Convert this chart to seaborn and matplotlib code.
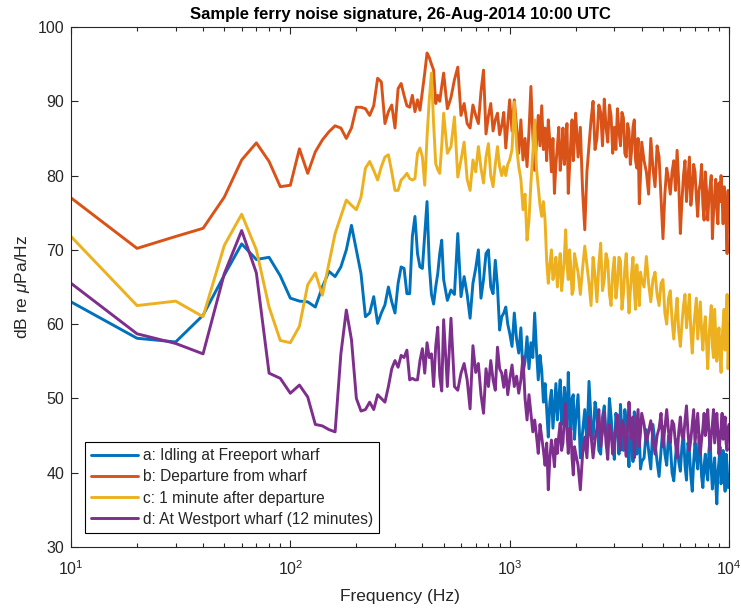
import numpy as np
import pandas as pd
import matplotlib
matplotlib.use("Agg")
import matplotlib.pyplot as plt
from matplotlib.lines import Line2D
import seaborn as sns

# Frequency bins (Hz): fine steps at low frequency, coarser steps higher up
freq_hz = np.concatenate([
    np.arange(10, 501, 10),
    np.arange(520, 1001, 20),
    np.arange(1025, 2001, 25),
    np.arange(2050, 4001, 50),
    np.arange(4100, 10001, 100),
])

# Spectral levels (dB re uPa/Hz) for each recording
idling_db = [
    63.0, 58.1, 57.6, 61.2, 66.6, 70.8, 68.7, 69.0, 66.5, 63.5,
    63.1, 63.0, 62.3, 65.0, 67.1, 66.4, 67.7, 70.0, 73.3, 70.0,
    66.8, 61.0, 61.5, 63.7, 60.1, 61.5, 62.6, 65.0, 63.0, 61.5,
    65.5, 67.7, 67.5, 64.1, 64.1, 71.8, 74.5, 69.5, 67.7, 67.5,
    72.0, 76.5, 68.0, 64.0, 62.7, 65.0, 66.8, 69.5, 71.3, 66.0,
    63.2, 64.6, 64.0, 72.2, 63.7, 66.4, 64.0, 60.8, 65.5, 67.5,
    70.0, 63.5, 66.0, 69.5, 70.0, 65.0, 64.1, 68.6, 65.0, 59.2,
    61.0, 61.5, 62.3, 60.0, 58.8,
    57.0, 61.5, 58.0, 56.1, 59.5, 53.4, 55.0, 58.3, 54.0, 57.5,
    55.5, 61.5, 56.5, 52.5, 55.8, 53.8, 49.5, 52.0, 48.5, 44.8,
    49.5, 51.1, 46.0, 49.0, 52.0, 47.1, 50.0, 52.5, 46.5, 48.0,
    51.5, 49.3, 46.2, 53.5, 48.5, 45.7, 50.0, 50.5, 44.5, 47.1,
    50.5, 42.0, 45.5, 48.5, 44.0, 52.3, 47.0, 44.5, 49.5, 47.8,
    43.0, 42.5, 47.5, 49.0, 45.0, 44.0, 50.0, 47.5, 44.5, 41.8,
    48.0, 46.5, 42.5, 49.2, 45.5, 43.0, 48.5, 46.8, 43.5, 40.8,
    46.0, 45.5, 41.5, 48.2, 44.0, 42.5, 47.0, 45.0, 40.5, 41.5,
    42.0, 45.8, 43.0, 40.5, 46.5, 44.0, 41.5, 39.5, 43.0, 46.2,
    42.5, 41.0, 45.0, 43.8, 40.0, 38.9, 42.0, 44.5, 41.5, 40.2,
    43.5, 45.5, 41.0, 39.0, 44.0, 42.8, 39.5, 37.5, 41.5, 44.0,
    42.0, 40.5, 45.0, 43.2, 39.5, 38.0, 41.0, 42.5, 40.0, 39.0,
    43.0, 44.5, 40.5, 37.8, 40.5, 42.0, 38.5, 35.8, 40.0, 41.5,
    43.5, 38.5, 40.0, 43.0, 39.5, 37.5, 42.5, 41.0, 38.0, 39.5,
]
departure_db = [
    77.0, 70.2, 71.8, 72.9, 77.1, 82.1, 84.4, 81.9, 78.5, 78.7,
    83.6, 80.3, 83.2, 84.8, 85.9, 86.7, 86.4, 85.0, 86.4, 89.2,
    89.2, 89.0, 88.1, 89.4, 93.1, 92.6, 87.0, 88.6, 89.5, 86.4,
    91.7, 92.4, 90.8, 89.4, 89.2, 90.8, 88.6, 90.2, 88.8, 91.3,
    93.8, 96.5, 95.9, 95.0, 94.2, 89.7, 90.8, 90.0, 92.0, 93.8,
    89.0, 90.5, 92.9, 94.6, 88.1, 89.7, 87.0, 86.4, 89.5, 88.1,
    87.0, 91.3, 94.2, 85.6, 88.0, 89.7, 86.0, 87.5, 88.4, 85.5,
    86.7, 88.5, 83.7, 87.0, 90.2,
    86.0, 90.2, 86.5, 83.0, 87.5, 82.1, 85.0, 81.2, 86.0, 92.0,
    85.5, 80.7, 84.5, 88.1, 84.0, 89.4, 83.5, 86.4, 82.0, 87.5,
    84.5, 80.5, 85.0, 77.6, 81.5, 83.9, 86.5, 80.7, 83.0, 86.4,
    81.5, 84.0, 87.0, 77.6, 81.0, 84.7, 87.5, 82.0, 85.0, 88.4,
    82.5, 86.5, 78.0, 72.7, 80.5, 84.0, 87.5, 90.0, 83.5, 85.0,
    89.5, 88.5, 84.0, 90.3, 86.5, 84.5, 89.5, 88.0, 83.0, 86.5,
    83.5, 89.0, 86.0, 84.0, 88.5, 87.8, 83.0, 82.5, 87.0, 86.0,
    81.5, 83.5, 86.5, 87.5, 82.0, 81.0, 85.0, 76.2, 80.0, 84.5,
    82.0, 80.5, 77.5, 85.0, 81.0, 78.5, 84.0, 82.5, 77.0, 71.5,
    77.5, 81.0, 79.5, 77.5, 80.5, 82.0, 78.0, 83.4, 79.0, 72.2,
    76.5, 80.0, 82.0, 76.5, 79.5, 82.5, 76.0, 78.0, 81.5, 80.5,
    77.0, 74.5, 78.0, 79.0, 81.5, 76.0, 74.0, 80.5, 78.0, 74.0,
    77.0, 78.5, 80.0, 71.5, 75.0, 77.5, 79.5, 75.5, 73.5, 79.0,
    76.5, 80.0, 77.0, 73.5, 78.5, 77.0, 74.0, 69.5, 78.0, 76.0,
]
after_1min_db = [
    71.8, 62.5, 63.1, 61.0, 70.6, 74.8, 70.0, 62.3, 57.8, 57.5,
    59.7, 65.3, 66.9, 63.9, 68.2, 72.2, 74.5, 76.7, 76.0, 75.4,
    77.1, 81.0, 81.9, 80.7, 79.4, 81.2, 82.5, 82.8, 80.5, 78.0,
    78.0, 79.4, 79.8, 80.3, 79.6, 79.4, 79.6, 83.0, 83.7, 82.5,
    78.7, 85.2, 90.2, 93.8, 87.0, 81.6, 80.8, 80.3, 84.0, 88.4,
    83.0, 83.9, 87.9, 79.8, 82.1, 84.5, 79.5, 78.0, 82.1, 80.5,
    83.9, 81.0, 79.0, 82.5, 84.3, 80.0, 78.5, 81.5, 83.9, 81.2,
    80.0, 81.2, 80.0, 81.5, 82.1,
    83.5, 89.9, 84.0, 81.2, 79.5, 75.4, 77.5, 71.3, 74.0, 79.0,
    83.0, 87.5, 81.0, 78.5, 76.0, 74.5, 76.5, 74.0, 68.5, 65.5,
    68.0, 70.0, 66.0, 67.0, 69.0, 65.0, 67.5, 69.5, 64.5, 66.5,
    69.0, 72.7, 68.0, 66.0, 70.0, 67.7, 64.0, 64.6, 69.5, 68.6,
    67.0, 64.0, 67.5, 70.5, 68.0, 65.5, 62.5, 69.0, 66.5, 63.0,
    68.0, 70.9, 64.5, 66.0, 69.5, 68.5, 64.0, 62.5, 67.0, 69.0,
    63.5, 65.5, 69.0, 68.5, 62.0, 64.0, 67.5, 69.5, 65.5, 61.5,
    64.5, 67.0, 69.0, 64.5, 62.0, 68.0, 65.5, 62.5, 67.0, 66.0,
    65.0, 69.1, 65.5, 63.0, 66.0, 67.0, 64.0, 62.5, 65.5, 66.0,
    61.5, 60.0, 63.5, 64.5, 60.5, 58.0, 61.0, 63.5, 59.0, 57.0,
    60.0, 62.5, 64.0, 59.5, 61.5, 64.0, 59.0, 56.1, 59.5, 61.5,
    63.5, 58.0, 60.5, 63.0, 59.0, 56.5, 59.5, 61.0, 57.5, 54.0,
    58.0, 60.5, 62.5, 57.0, 55.5, 62.0, 58.5, 55.0, 57.5, 59.5,
    56.0, 53.5, 58.0, 60.0, 62.0, 56.5, 60.0, 64.0, 54.0, 57.5,
]
westport_db = [
    65.5, 58.7, 57.4, 56.0, 66.8, 72.6, 66.9, 53.4, 52.7, 50.7,
    51.8, 50.2, 46.5, 46.3, 45.8, 45.5, 56.0, 61.9, 57.9, 50.0,
    48.3, 48.5, 49.5, 48.5, 50.5, 50.0, 49.5, 51.6, 54.0, 55.1,
    54.2, 55.8, 55.5, 56.5, 52.5, 52.7, 52.5, 52.5, 55.1, 56.7,
    53.4, 57.5, 55.5, 56.0, 51.6, 57.0, 59.6, 53.0, 51.0, 60.6,
    51.6, 60.8, 51.6, 51.1, 53.4, 54.7, 52.5, 48.6, 57.1, 53.5,
    54.7, 50.5, 48.0, 54.0, 51.6, 55.1, 52.5, 51.1, 56.9, 54.0,
    53.4, 51.5, 53.8, 50.5, 52.5,
    54.5, 51.6, 53.0, 50.7, 52.5, 55.6, 50.0, 47.1, 50.5, 48.0,
    45.5, 47.1, 45.0, 42.6, 46.5, 44.8, 43.0, 41.0, 44.0, 37.7,
    42.0, 44.4, 43.0, 40.8, 44.5, 42.6, 45.0, 46.7, 43.0, 44.0,
    47.5, 49.3, 45.5, 42.6, 46.0, 45.5, 42.0, 39.7, 43.5, 42.6,
    41.0, 37.7, 42.5, 44.8, 42.0, 47.5, 45.0, 42.0, 44.5, 46.0,
    48.5, 43.5, 45.5, 48.2, 44.0, 41.8, 46.5, 45.5, 42.5, 44.0,
    46.0, 47.8, 44.5, 43.0, 47.0, 46.5, 44.0, 42.2, 46.0, 49.5,
    46.5, 44.5, 47.5, 42.0, 45.0, 46.8, 48.5, 43.5, 45.5, 48.0,
    46.5, 44.0, 45.5, 47.0, 44.5, 42.5, 45.0, 46.0, 48.0, 43.5,
    46.0, 48.5, 45.5, 44.0, 47.0, 46.5, 44.0, 42.0, 45.5, 47.5,
    45.0, 44.5, 47.0, 49.0, 45.5, 43.0, 44.5, 46.5, 48.5, 44.0,
    46.0, 48.0, 45.0, 42.5, 44.5, 46.0, 48.0, 45.0, 46.5, 48.5,
    45.5, 43.0, 45.0, 46.5, 48.5, 44.0, 46.0, 48.0, 45.5, 42.5,
    44.5, 46.0, 48.0, 44.5, 46.0, 47.5, 44.0, 43.0, 46.0, 46.5,
]

series_labels = [
    "a: Idling at Freeport wharf",
    "b: Departure from wharf",
    "c: 1 minute after departure",
    "d: At Westport wharf (12 minutes)",
]
series_colors = ["#0072BD", "#D95319", "#EDB120", "#7E2F8E"]
series_values = [idling_db, departure_db, after_1min_db, westport_db]

df = pd.concat(
    [pd.DataFrame({"Frequency": freq_hz, "Level": vals, "Series": lab})
     for lab, vals in zip(series_labels, series_values)],
    ignore_index=True,
)

sns.set_theme(style="ticks")
plt.rcParams.update({
    "font.family": ["Liberation Sans", "DejaVu Sans"],
    "mathtext.fontset": "custom",
    "mathtext.rm": "Liberation Sans",
    "mathtext.it": "Liberation Sans:italic",
    "mathtext.bf": "Liberation Sans:bold",
})

ink = "#262626"
fig = plt.figure(figsize=(7.41, 6.09), dpi=100)
ax = fig.add_axes([71 / 741, 62 / 609, 658 / 741, 520 / 609])

sns.lineplot(
    data=df, x="Frequency", y="Level", hue="Series",
    palette=dict(zip(series_labels, series_colors)),
    linewidth=2.1, estimator=None, sort=False, legend=False, ax=ax,
)

ax.set_xscale("log")
ax.set_xlim(10, 1e4)
ax.set_ylim(30, 100)
ax.set_yticks(np.arange(30, 101, 10))

for side in ax.spines.values():
    side.set_visible(True)
    side.set_color(ink)
    side.set_linewidth(0.8)
ax.tick_params(which="both", direction="in", top=True, right=True,
               colors=ink, labelcolor=ink, labelsize=11.5, width=0.8)
ax.tick_params(which="major", length=5)
ax.tick_params(which="minor", length=3)
ax.tick_params(axis="x", which="both", pad=9)
ax.tick_params(axis="y", which="both", pad=5)

ax.set_title("Sample ferry noise signature, 26-Aug-2014 10:00 UTC",
             fontsize=12, fontweight="bold", color="black", pad=6)
ax.set_xlabel("Frequency (Hz)", fontsize=12.5, color=ink, labelpad=8)
ax.set_ylabel(r"dB re $\mu$Pa/Hz", fontsize=12.5, color=ink)

handles = [Line2D([0], [0], color=c, lw=2.1) for c in series_colors]
leg = ax.legend(handles, series_labels, loc="lower left", fontsize=11.2,
                frameon=True, fancybox=False, framealpha=1, edgecolor="black",
                handlelength=3.0, handletextpad=0.3, labelspacing=0.4,
                borderaxespad=0.9, borderpad=0.4)
leg.get_frame().set_linewidth(0.8)

fig.savefig("out.png", dpi=100)
